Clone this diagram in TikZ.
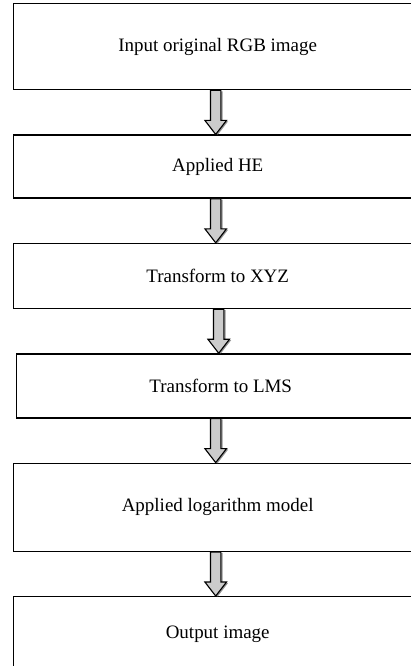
\documentclass[tikz,border=0pt]{standalone}
\usepackage{fontspec}
\setmainfont{Liberation Serif}
\usetikzlibrary{positioning,calc,shadows}
\begin{document}
\begin{tikzpicture}[font=\fontsize{13.5}{16}\selectfont, node distance=1.1cm, line join=miter,
 stage/.style={draw, line width=1pt, minimum width=10.2cm, inner sep=0pt},
 blockarr/.style={draw, line width=.8pt, fill=black!20, drop shadow={shadow xshift=1.2pt, shadow yshift=-.6pt, fill=black!70, opacity=.6}}]
 \useasboundingbox (0,0) rectangle (10.275,-16.65);
 \node[stage, minimum height=2.15cm, anchor=north west] (rgb) at (.325,-.075) {Input original RGB image};
 \node[stage, minimum height=1.575cm, below=of rgb] (he) {Applied HE};
 \node[stage, minimum height=1.625cm, below=of he] (xyz) {Transform to XYZ};
 \node[stage, minimum height=1.6cm, below=of xyz, xshift=.075cm] (lms) {Transform to LMS};
 \node[stage, minimum height=2.2cm, below=of lms, xshift=-.075cm] (logm) {Applied logarithm model};
 \node[stage, minimum height=1.9cm, below=of logm] (out) {Output image};
 \foreach \a/\b in {rgb/he, he/xyz, xyz/lms, lms/logm, logm/out}
 \draw[blockarr] ($(\a.south -| \b.north)+(-.18,0)$) -- ($(\b.north)+(-.18,.35)$) -- ($(\b.north)+(-.32,.35)$) -- ($(\b.north)+(-.05,0)$) -- ($(\b.north)+(.22,.35)$) -- ($(\b.north)+(.08,.35)$) -- ($(\a.south -| \b.north)+(.08,0)$) -- cycle;
\end{tikzpicture}
\end{document}
